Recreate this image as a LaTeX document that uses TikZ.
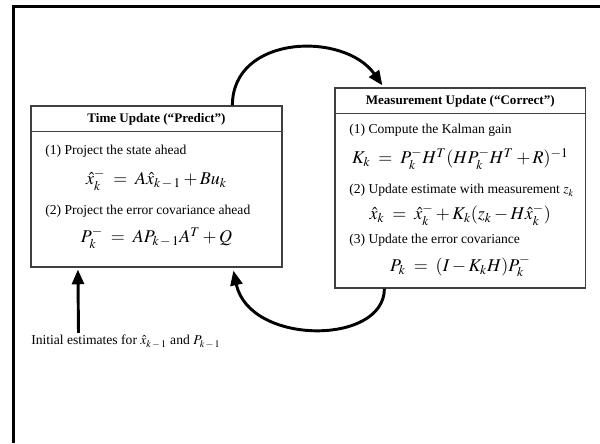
\documentclass[tikz,border=0pt]{standalone}
\usepackage{mathptmx}
\usepackage[no-math]{fontspec}
\setmainfont{Liberation Serif}
\usetikzlibrary{arrows.meta,calc}
\tikzset{
  stagebox/.style={draw=black!75, line width=0.9pt, inner sep=0pt},
  steptext/.style={anchor=west, inner sep=0pt, font=\fontsize{10.2}{12}\selectfont},
  headtext/.style={inner sep=0pt, font=\fontsize{9.8}{12}\selectfont\bfseries},
  eqtext/.style={inner sep=0pt, font=\fontsize{13.5}{16}\selectfont},
  loop arrow/.style={line width=2.2pt, -{Triangle[length=11pt,width=9pt]}},
}
\newcommand{\eqsp}{\;=\;}
\newcommand{\km}{k\,-\,1}

\begin{document}
\begin{tikzpicture}[x=0.75pt,y=-0.75pt]
  \useasboundingbox (0,0) rectangle (600,443);
  % page frame (left and top only)
  \draw[line width=2.2pt] (13.5,443) -- (13.5,6.5) -- (600,6.5);

  % time update box
  \node[stagebox, minimum width=188.25pt, minimum height=120.75pt] (predict) at (156.5,186.5) {};
  \draw[draw=black!75, line width=0.9pt] ($(predict.north west)+(0,26)$) -- ($(predict.north east)+(0,26)$);
  \node[headtext] (phead) at (156.5,119.5) {Time Update (“Predict”)};
  \node[steptext] (pstep1) at (45,151.5) {(1) Project the state ahead};
  \node[eqtext] (peq1) at (156.5,180) {$\hat{x}_k^- \eqsp A\hat{x}_{\km} + Bu_k$};
  \node[steptext] (pstep2) at (45,211) {(2) Project the error covariance ahead};
  \node[eqtext] (peq2) at (156.5,238) {$P_k^- \eqsp AP_{\km}A^T + Q$};

  % measurement update box
  \node[stagebox, minimum width=187.9pt, minimum height=150pt] (correct) at (460.25,188) {};
  \draw[draw=black!75, line width=0.9pt] ($(correct.north west)+(0,26)$) -- ($(correct.north east)+(0,26)$);
  \node[headtext] (chead) at (460.25,101) {Measurement Update (“Correct”)};
  \node[steptext] (cstep1) at (349,130) {(1) Compute the Kalman gain};
  \node[eqtext] (ceq1) at (460.25,159) {$K_k \eqsp P_k^-H^T(HP_k^-H^T + R)^{-1}$};
  \node[steptext] (cstep2) at (349,190.5) {(2) Update estimate with measurement $z_k$};
  \node[eqtext] (ceq2) at (460.25,215) {$\hat{x}_k \eqsp \hat{x}_k^- + K_k(z_k - H\hat{x}_k^-)$};
  \node[steptext] (cstep3) at (349,240.5) {(3) Update the error covariance};
  \node[eqtext] (ceq3) at (460.25,266.5) {$P_k \eqsp (I - K_kH)P_k^-$};

  % initial estimates
  \node[steptext] (init) at (31,341.5) {Initial estimates for $\hat{x}_{\km}$ and $P_{\km}$};

  % loop
  \draw[loop arrow] ($(predict.north west)+(202,0)$) .. controls ($(predict.north west)+(202,-71)$) and ($(correct.north west)+(10,-56)$) .. ($(correct.north west)+(48,-2)$);
  \draw[loop arrow] ($(correct.south west)+(50,0)$) .. controls ($(correct.south west)+(50,57)$) and ($(predict.south west)+(219,78)$) .. ($(predict.south west)+(203,3)$);
  \draw[loop arrow] ($(init.north west)+(47.5,-2)$) -- ($(predict.south west)+(47.5,2)$);
\end{tikzpicture}
\end{document}
